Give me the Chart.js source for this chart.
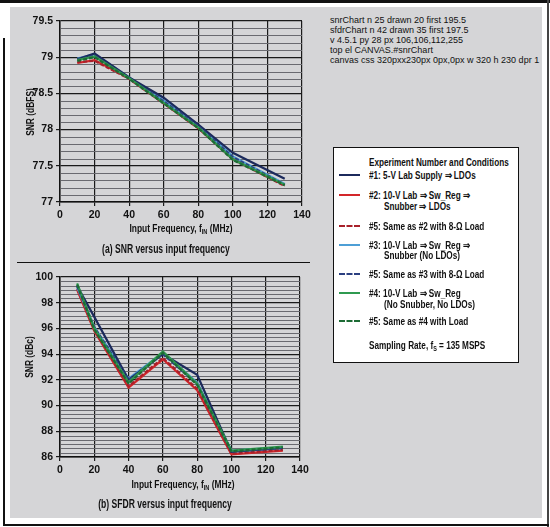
<!DOCTYPE html>
<html lang="en">
<head>
  <meta charset="UTF-8" />
  <title>SNR and SFDR versus input frequency</title>
  <script src="https://cdn.jsdelivr.net/npm/chart.js"></script>
  <style>
    body {
      margin: 0;
      width: 550px;
      height: 527px;
      background: #fff;
      position: relative;
      overflow: hidden;
      font-family: 'Liberation Sans', Arial, sans-serif;
      font-weight: bold;
      color: #111;
    }
    .abs { position: absolute; }
    .panel { left: 10px; top: 7px; width: 532px; height: 511px; background: #d5d5d7; }
    .rule { background: #111; }
    .axis-title { font-size: 10.5px; white-space: nowrap; transform: translate(-50%, -50%) scaleX(0.8); }
    .caption { font-size: 13px; white-space: nowrap; transform: translate(-50%, -50%) scaleX(0.66); }
    .ytitle { font-size: 10.5px; white-space: nowrap; transform: translate(-50%, -50%) rotate(-90deg) scaleX(0.8); }
    sub { font-size: 7px; vertical-align: -2px; }
    .legend { left: 333px; top: 147px; width: 184px; height: 214px; background: #fff; border: 1.5px solid #111; }
    .legend .row { position: absolute; font-size: 10.5px; white-space: nowrap; line-height: 12px; transform: scaleX(0.78); transform-origin: left center; }
    .legend .swatch { position: absolute; width: 21px; height: 0; }
    canvas { position: absolute; }
    .wm { position: absolute; white-space: nowrap; pointer-events: none; }
    #dbg { position: absolute; left: 330px; top: 15px; width: 210px; font-size: 9px; font-weight: normal; white-space: pre-wrap; }
  </style>
</head>
<body>
  <div class="abs rule" style="left:0;top:0;width:550px;height:3px;"></div>
  <div class="abs panel"></div>
  <div class="abs rule" style="left:3px;top:38px;width:1.5px;height:487px;"></div>
  <div class="abs rule" style="left:547px;top:0;width:1.5px;height:527px;background:#444;"></div>
  <div class="abs rule" style="left:3px;top:524px;width:546px;height:1.5px;"></div>
  <div class="abs rule" style="left:17px;top:262px;width:293px;height:1.2px;"></div>

  <canvas id="snrChart" width="320" height="230" style="left:0;top:0;"></canvas>
  <canvas id="sfdrChart" width="320" height="230" style="left:0;top:256px;"></canvas>

  <div class="abs ytitle" style="left:30px;top:112px;">SNR (dBFS)</div>
  <div class="abs axis-title" style="left:181px;top:228px;">Input Frequency, f<sub>IN</sub> (MHz)</div>
  <div class="abs caption" style="left:166px;top:248px;">(a) SNR versus input frequency</div>

  <div class="abs ytitle" style="left:29px;top:357px;">SNR (dBc)</div>
  <div class="abs axis-title" style="left:183px;top:484px;">Input Frequency, f<sub>IN</sub> (MHz)</div>
  <div class="abs caption" style="left:165px;top:503px;">(b) SFDR versus input frequency</div>

  <div class="abs legend" id="legend"></div>
  <div id="dbg"></div>

  <script>
    const dbg = [];
    const FREQ = [10, 20, 40, 60, 80, 100, 130];

    const SNR_1 = [78.97, 79.05, 78.72, 78.44, 78.07, 77.68, 77.32];
    const SNR_2 = [78.92, 78.96, 78.71, 78.37, 78.02, 77.60, 77.23];
    const SNR_5A = [78.93, 78.95, 78.70, 78.36, 78.02, 77.59, 77.22];
    const SNR_3 = [78.98, 79.04, 78.72, 78.40, 78.06, 77.63, 77.25];
    const SNR_5B = [78.97, 79.02, 78.71, 78.39, 78.05, 77.62, 77.24];
    const SNR_4 = [78.96, 79.01, 78.71, 78.37, 78.03, 77.59, 77.24];
    const SNR_5C = [78.95, 79.00, 78.70, 78.36, 78.02, 77.58, 77.23];

    const SFDR_1 = [99.3, 96.9, 92.0, 94.0, 92.4, 86.4, 86.7];
    const SFDR_2 = [99.0, 95.8, 91.4, 93.6, 91.2, 86.2, 86.5];
    const SFDR_5A = [99.1, 95.9, 91.5, 93.7, 91.3, 86.25, 86.55];
    const SFDR_3 = [99.2, 96.1, 92.1, 94.1, 91.8, 86.5, 86.75];
    const SFDR_5B = [99.3, 96.1, 92.0, 94.0, 91.7, 86.45, 86.7];
    const SFDR_4 = [99.5, 96.0, 91.8, 94.2, 91.7, 86.5, 86.8];
    const SFDR_5C = [99.4, 95.9, 91.7, 94.1, 91.6, 86.45, 86.75];

    const X_MIN = 0, X_MAX = 140, X_STEP = 20;

    const SERIES = [
      { name: '#1: 5-V Lab Supply \u21D2 LDOs', color: '#1c2a5c', dash: [] },
      { name: '#2: 10-V Lab \u21D2 Sw_Reg \u21D2|Snubber \u21D2 LDOs', color: '#d3262a', dash: [] },
      { name: '#5: Same as #2 with 8-\u03A9 Load', color: '#a8202a', dash: [4, 2] },
      { name: '#3: 10-V Lab \u21D2 Sw_Reg \u21D2|Snubber (No LDOs)', color: '#4d9fd6', dash: [] },
      { name: '#5: Same as #3 with 8-\u03A9 Load', color: '#2b3f80', dash: [4, 2] },
      { name: '#4: 10-V Lab \u21D2 Sw_Reg|(No Snubber, No LDOs)', color: '#2f9a50', dash: [] },
      { name: '#5: Same as #4 with Load', color: '#1d6b35', dash: [4, 2] }
    ];
    const DRAW_ORDER = [3, 6, 5, 4, 2, 1, 0];
    const FONT = "'Liberation Sans', Arial, sans-serif";

    function makeDatasets(rows) {
      return rows.map((vals, i) => ({
        label: SERIES[i].name,
        data: FREQ.map((f, k) => ({ x: f, y: vals[k] })),
        borderColor: SERIES[i].color,
        borderDash: SERIES[i].dash,
        borderWidth: 2.2,
        pointRadius: 0,
        tension: 0,
        fill: false,
        order: DRAW_ORDER[i]
      }));
    }

    function isMajor(v, major) {
      const r = v / major;
      return Math.abs(r - Math.round(r)) < 1e-6;
    }

    function minorGrid(yMin, yMax, step, major) {
      return {
        id: 'minorGrid',
        beforeDatasetsDraw(chart) {
          const ctx = chart.ctx;
          const a = chart.chartArea;
          const y = chart.scales.y;
          const n = Math.round((yMax - yMin) / step);
          let drawn = 0, first = null;
          ctx.save();
          ctx.setLineDash([]);
          ctx.strokeStyle = '#6a6a70';
          ctx.lineWidth = 1;
          for (let i = 1; i < n; i++) {
            const v = yMin + i * step;
            if (isMajor(v, major)) continue;
            const py = Math.round(y.getPixelForValue(v)) + 0.5;
            if (first === null) first = py;
            ctx.beginPath();
            ctx.moveTo(a.left + 1, py);
            ctx.lineTo(a.right, py);
            ctx.stroke();
            drawn++;
          }
          ctx.restore();
          dbg.push(chart.canvas.id + ' n ' + n + ' drawn ' + drawn + ' first ' + first);
        }
      };
    }

    function makeChart(id, rows, yMin, yMax, minorStep, majorStep, pad) {
      return new Chart(document.getElementById(id), {
        type: 'line',
        data: { datasets: makeDatasets(rows) },
        plugins: [minorGrid(yMin, yMax, minorStep, majorStep)],
        options: {
          responsive: false,
          animation: false,
          layout: { padding: { top: pad.top, right: pad.right, bottom: 0, left: 0 } },
          plugins: { legend: { display: false }, tooltip: { enabled: false } },
          scales: {
            x: {
              type: 'linear', min: X_MIN, max: X_MAX,
              afterFit: s => { s.height = pad.xHeight; },
              ticks: { stepSize: X_STEP, color: '#111', padding: 3, font: { family: FONT, size: 10.5, weight: 'bold' } },
              grid: { color: '#1a1a1a', lineWidth: 1.2, tickLength: 4, tickColor: '#1a1a1a' },
              border: { color: '#111', width: 1.5 }
            },
            y: {
              min: yMin, max: yMax,
              afterFit: s => { s.width = 60; },
              ticks: { stepSize: majorStep, color: '#111', padding: 3, font: { family: FONT, size: 10.5, weight: 'bold' }, callback: v => String(Number(v.toFixed(2))) },
              grid: { color: '#1a1a1a', lineWidth: 1.2, tickLength: 4, tickColor: '#1a1a1a' },
              border: { color: '#111', width: 1.5 }
            }
          }
        }
      });
    }

    const c1 = makeChart('snrChart', [SNR_1, SNR_2, SNR_5A, SNR_3, SNR_5B, SNR_4, SNR_5C], 77, 79.5, 0.1, 0.5, { top: 21, right: 18, xHeight: 28 });
    const c2 = makeChart('sfdrChart', [SFDR_1, SFDR_2, SFDR_5A, SFDR_3, SFDR_5B, SFDR_4, SFDR_5C], 86, 100, 1 / 3, 2, { top: 21, right: 20, xHeight: 29 });

    const py = Math.floor(c1.scales.y.getPixelForValue(79.4));
    dbg.push('v ' + Chart.version + ' py ' + py + ' px ' + Array.from(c1.ctx.getImageData(100, py, 1, 1).data).join(','));
    const el = document.elementFromPoint(100, py);
    dbg.push('top el ' + (el ? el.tagName + '.' + el.className + '#' + el.id : 'none'));
    const cs = getComputedStyle(document.getElementById('snrChart'));
    dbg.push('canvas css ' + cs.width + 'x' + cs.height + ' ' + cs.left + ',' + cs.top + ' w ' + c1.width + ' h ' + c1.height + ' dpr ' + c1.currentDevicePixelRatio);

    const legend = document.getElementById('legend');
    const ROW_Y = [175, 195, 226, 245, 274, 293, 321];
    const boxLeft = 333, boxTop = 147;
    function addRow(text, x, yc) {
      const d = document.createElement('div');
      d.className = 'row';
      d.innerHTML = text;
      d.style.left = (x - boxLeft) + 'px';
      d.style.top = (yc - boxTop - 7) + 'px';
      legend.appendChild(d);
    }
    addRow('Experiment Number and Conditions', 368, 162);
    SERIES.forEach((s, i) => {
      const sw = document.createElement('div');
      sw.className = 'swatch';
      sw.style.left = (338 - boxLeft) + 'px';
      sw.style.top = (ROW_Y[i] - boxTop - 2) + 'px';
      sw.style.borderTop = '2px ' + (s.dash.length ? 'dashed ' : 'solid ') + s.color;
      legend.appendChild(sw);
      const parts = s.name.split('|');
      addRow(parts[0], 368, ROW_Y[i]);
      if (parts[1]) addRow(parts[1], 383, ROW_Y[i] + (i === 3 ? 10 : 11));
    });
    addRow('Sampling Rate, f<sub>S</sub> = 135 MSPS', 368, 345);
    document.getElementById('dbg').textContent = dbg.join('\n');
  </script>
</body>
</html>
